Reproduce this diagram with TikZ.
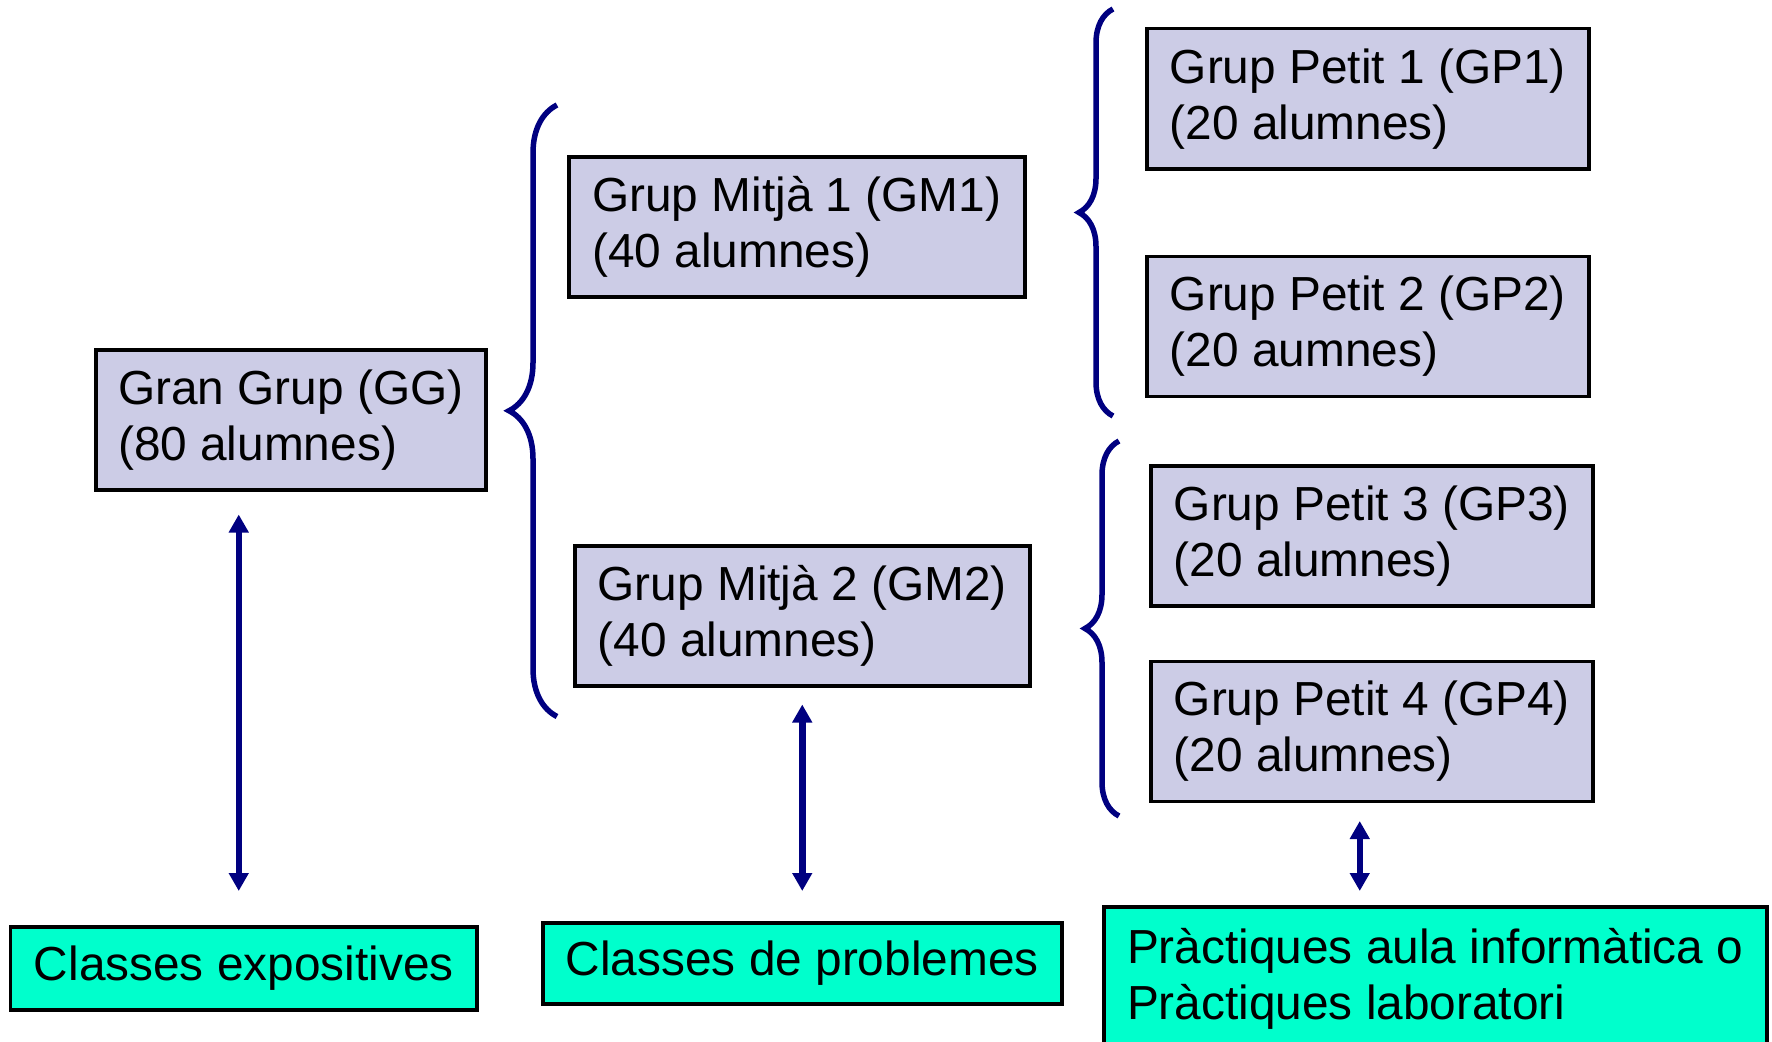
\documentclass[tikz,border=0pt]{standalone}
\usepackage{fontspec}
\setmainfont{Liberation Sans}
\usetikzlibrary{arrows.meta, positioning, calc, decorations.pathreplacing}
\definecolor{lila}{RGB}{204,204,230}
\definecolor{aqua}{RGB}{0,255,204}
\definecolor{marino}{RGB}{0,0,128}

\begin{document}
\begin{tikzpicture}[
    every node/.style={font=\fontsize{13.6}{15.9}\selectfont},
    group/.style={draw, fill=lila, line width=0.35mm, align=left, minimum height=1.4cm, inner xsep=1mm, anchor=north west},
    activity/.style={draw, fill=aqua, line width=0.35mm, align=left, inner xsep=1mm, anchor=north west},
    link/.style={{Triangle[width=1.9mm,length=1.8mm]}-{Triangle[width=1.9mm,length=1.8mm]}, marino, line width=0.65mm},
    grpbrace/.style={decorate, decoration={brace, amplitude=#1}, marino, line width=0.55mm},
    grpbrace/.default=3.4mm
    ]
    \useasboundingbox (0,0) rectangle (17.72,10.41);
    \node[group, minimum width=3.9cm] (gg) at (0.94,6.93) {Gran Grup (GG)\\(80 alumnes)};
    \node[group, minimum width=4.56cm] (gm1) at (5.67,8.86) {Grup Mitjà 1 (GM1)\\(40 alumnes)};
    \node[group, minimum width=4.55cm] (gm2) at (5.73,4.97) {Grup Mitjà 2 (GM2)\\(40 alumnes)};
    \node[group, minimum width=4.42cm] (gp1) at (11.45,10.14) {Grup Petit 1 (GP1)\\(20 alumnes)};
    \node[group, minimum width=4.42cm, below=0.84cm of gp1] (gp2) {Grup Petit 2 (GP2)\\(20 aumnes)};
    \node[group, minimum width=4.42cm] (gp3) at (11.49,5.77) {Grup Petit 3 (GP3)\\(20 alumnes)};
    \node[group, minimum width=4.42cm, below=0.52cm of gp3] (gp4) {Grup Petit 4 (GP4)\\(20 alumnes)};
    \node[activity, minimum width=4.66cm, minimum height=0.83cm] (expo) at (0.09,1.16) {Classes expositives};
    \node[activity, minimum width=5.19cm, minimum height=0.81cm] (prob) at (5.41,1.2) {Classes de problemes};
    \node[activity, minimum width=6.63cm, minimum height=1.44cm] (prac) at (11.02,1.36) {Pràctiques aula informàtica o\\Pràctiques laboratori};
    \draw[grpbrace=4.8mm] ($(gm1.west |- gm2.south)+(-1mm,-2.9mm)$) -- ($(gm1.north west)+(-1mm,5mm)$);
    \draw[grpbrace] ($(gp2.south west)+(-3.2mm,-1.8mm)$) -- ($(gp1.north west)+(-3.2mm,1.8mm)$);
    \draw[grpbrace] ($(gp4.south west)+(-3mm,-1.3mm)$) -- ($(gp3.north west)+(-3mm,2.3mm)$);
    \draw[link, shorten <=3.4mm, shorten >=2.3mm] ([xshift=-0.5mm]expo.north) -- ([xshift=-0.5mm]expo.north |- gg.south);
    \draw[link, shorten <=3mm, shorten >=1.7mm] (prob.north) -- (prob.north |- gm2.south);
    \draw[link, shorten <=1.8mm, shorten >=1.4mm] ([xshift=-1.2mm]gp4.south) -- ([xshift=-1.2mm]gp4.south |- prac.north);
\end{tikzpicture}
\end{document}
